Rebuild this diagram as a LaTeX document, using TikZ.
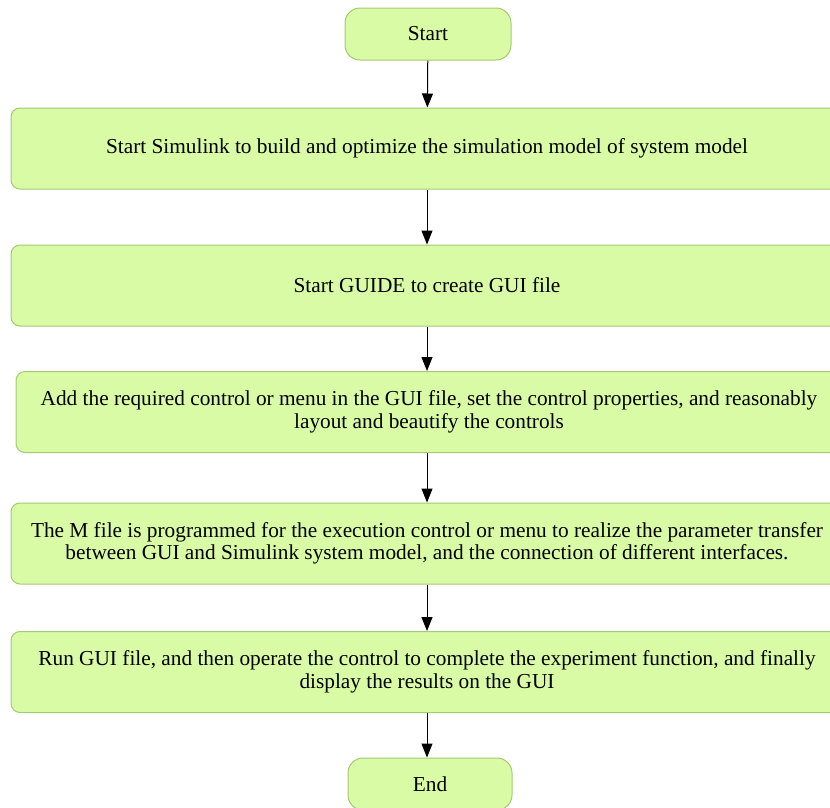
\documentclass[tikz,border=0pt]{standalone}
\usepackage{fontspec}
\setmainfont{LiberationSerif}[Extension=.ttf,UprightFont=*-Regular,BoldFont=*-Bold]
\usepackage{xcolor}
\usepackage{tikz}
\usetikzlibrary{arrows.meta}
\definecolor{boxfill}{HTML}{D9FBA6}
\definecolor{boxline}{HTML}{A6C873}
\tikzset{
  terminal/.style={draw=boxline,fill=boxfill,line width=1pt,rounded corners=15pt,
    minimum width=166pt,minimum height=52pt,font=\fontsize{21.3}{22.5}\selectfont},
  process/.style={draw=boxline,fill=boxfill,line width=1pt,rounded corners=9pt,
    minimum width=832pt,minimum height=81pt,align=center,inner sep=0pt,
    font=\fontsize{21.3}{22.5}\selectfont},
  flow/.style={-{Triangle[length=14pt,width=11pt]},line width=1pt}
}
\begin{document}
\begin{tikzpicture}[x=1pt,y=-1pt]
    \clip (0,0) rectangle (830,807);
    \node[terminal] (start) at (428,34) {Start};
    \node[process] (simulink) at (427,148.5)
      {Start Simulink to build and optimize the simulation model of system model};
    \node[process] (guide) at (427,285.5) {Start GUIDE to create GUI file};
    \node[process,minimum width=826pt] (layout) at (429,412)
      {Add the required control or menu in the GUI file, set the control properties, and reasonably\\
       layout and beautify the controls};
    \node[process] (mfile) at (427,543.5)
      {The M file is programmed for the execution control or menu to realize the parameter transfer\\
       between GUI and Simulink system model, and the connection of different interfaces.};
    \node[process] (run) at (427,672)
      {Run GUI file, and then operate the control to complete the experiment function, and finally\\
       display the results on the GUI};
    \node[terminal,minimum width=164pt] (end) at (430,784) {End};
    % connectors
    \draw[flow] (start) -- (simulink);
    \draw[flow] (simulink) -- (guide);
    \draw[flow] (guide) -- (guide |- layout.north);
    \draw[flow] (guide |- layout.south) -- (guide |- mfile.north);
    \draw[flow] (mfile) -- (run);
    \draw[flow] (run) -- (run |- end.north);
\end{tikzpicture}
\end{document}
